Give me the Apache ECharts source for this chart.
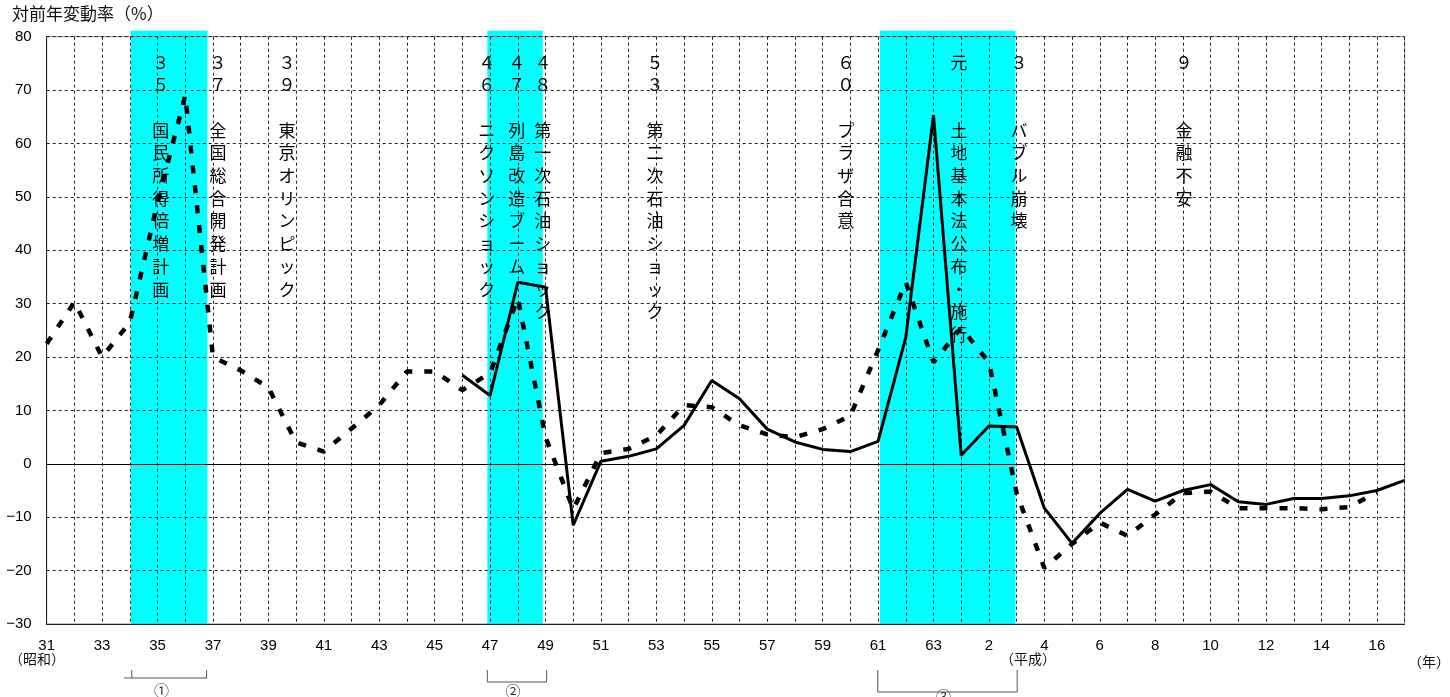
<!DOCTYPE html>
<html>
<head>
<meta charset="utf-8">
<script src="https://cdn.jsdelivr.net/npm/echarts@6/dist/echarts.min.js"></script>
<style>
html,body{margin:0;padding:0;background:#fff;}
#chart{width:1450px;height:697px;}
</style>
</head>
<body>
<div id="chart"></div>
<script>
// ---- Data ----
// Year labels (Showa 31 .. 63, Heisei 元 .. 17)
const years = ['31','32','33','34','35','36','37','38','39','40','41','42','43','44','45','46','47','48','49','50',
  '51','52','53','54','55','56','57','58','59','60','61','62','63','元','2','3','4','5','6','7','8','9','10',
  '11','12','13','14','15','16','17'];

// Dashed series: year-on-year change (%)
const seriesDashed = [22.5, 30.3, 20.0, 26.5, 49.0, 69.0, 20.0, 17.5, 14.3, 4.0,
  2.3, 6.6, 11.0, 17.3, 17.3, 13.8, 17.0, 31.0, 5.0, -8.5,
  2.0, 2.8, 5.3, 11.0, 10.6, 7.2, 5.5, 5.0, 6.5, 9.0,
  21.3, 34.0, 19.0, 25.5, 19.0, -5.5, -19.5, -15.0, -11.0, -13.5,
  -9.5, -5.5, -5.2, -8.3, -8.3, -8.3, -8.5, -8.1, -5.3, null];

// Solid series: year-on-year change (%)
const seriesSolid = [null, null, null, null, null, null, null, null, null, null,
  null, null, null, null, null, 16.6, 12.8, 34.0, 33.1, -11.5,
  0.5, 1.4, 2.8, 7.2, 15.6, 12.2, 6.5, 4.1, 2.7, 2.3,
  4.2, 23.7, 65.3, 1.6, 7.1, 6.9, -8.3, -14.9, -9.3, -4.8,
  -7.0, -5.0, -3.9, -7.1, -7.6, -6.5, -6.5, -6.0, -5.0, -3.1];

// Highlighted periods (in year-index units)
const bandRanges = [[3.04, 5.80], [15.90, 17.90], [30.07, 34.96]];
const bracketLines = [[2.79, 5.79], [15.90, 18.04], [29.99, 35.02]];
const bracketTicks = [[3.07, 5.77], [15.90, 18.04], [29.99, 35.02]];
const bracketLabels = ['①', '②', '③'];

// Event annotations
const annoX = [4.12, 6.18, 8.67, 15.88, 16.96, 17.90, 21.95, 28.83, 32.92, 35.09, 41.04];
const annoHead = ['３５', '３７', '３９', '４６', '４７', '４８', '５３', '６０', '元', '３', '９'];
const annoText = ['国民所得倍増計画', '全国総合開発計画', '東京オリンピック', 'ニクソンショック', '列島改造ブーム',
  '第一次石油ショック', '第二次石油ショック', 'プラザ合意', '土地基本法公布・施行', 'バブル崩壊', '金融不安'];

const yTicks = { min: -30, max: 80, step: 10 };

// ---- Chart ----
const chart = echarts.init(document.getElementById('chart'), null, { renderer: 'canvas' });
const numFont = 'Liberation Sans, Arial, sans-serif';
const cjkFont = '"Noto Sans CJK JP", sans-serif';

const toPairs = arr => arr.map((v, i) => [i, v]).filter(p => p[1] !== null);

const bracketOffsets = [54, 58, 68];
const labelOffsets = [66, 67, 72];

const option = {
  animation: false,
  backgroundColor: '#fff',
  grid: { left: 46.7, right: 45.4, top: 36.7, bottom: 73, show: true, borderColor: '#888', borderWidth: 1 },
  xAxis: {
    type: 'value', min: 0, max: years.length - 1, interval: 1,
    axisLine: { show: true, onZero: false, lineStyle: { color: '#222', width: 1 } },
    axisTick: { show: false },
    splitLine: { show: true, lineStyle: { type: [3, 3], color: '#222', width: 1 } },
    axisLabel: {
      formatter: v => (v % 2 === 0 && v < years.length - 1) ? years[v] : '',
      fontSize: 15, color: '#000', margin: 14, fontFamily: numFont
    }
  },
  yAxis: {
    type: 'value', min: yTicks.min, max: yTicks.max, interval: yTicks.step,
    axisLine: { show: true, lineStyle: { color: '#222', width: 1 } },
    axisTick: { show: false },
    splitLine: { show: true, lineStyle: { type: [3, 3], color: '#222', width: 1 } },
    axisLabel: {
      formatter: v => String(v).replace('-', '−'),
      fontSize: 15, color: '#000', margin: 15, fontFamily: numFont
    }
  },
  graphic: [
    { type: 'text', left: 12, top: 5, style: { text: '対前年変動率（%）', fontSize: 17, fill: '#111', fontFamily: cjkFont } },
    { type: 'text', left: 9, top: 652, style: { text: '（昭和）', fontSize: 14, fill: '#111', fontFamily: cjkFont } },
    { type: 'text', left: 1000, top: 652, style: { text: '（平成）', fontSize: 14, fill: '#111', fontFamily: cjkFont } },
    { type: 'text', left: 1408, top: 655, style: { text: '（年）', fontSize: 14, fill: '#111', fontFamily: cjkFont } }
  ],
  series: [
    {
      type: 'custom', name: 'bands', z: -1, silent: true, clip: false,
      data: bandRanges,
      renderItem: (params, api) => {
        const p0 = api.coord([api.value(0), yTicks.max]);
        const p1 = api.coord([api.value(1), yTicks.min]);
        return { type: 'rect', shape: { x: p0[0], y: p0[1] - 6, width: p1[0] - p0[0], height: p1[1] - p0[1] + 6 },
          style: { fill: '#00FFFF' } };
      }
    },
    {
      type: 'custom', name: 'annotations', z: 1, silent: true, clip: false,
      data: annoX.map((x, i) => [x, 0]),
      renderItem: (params, api) => {
        const i = params.dataIndex;
        const head = Array.from(annoHead[i]);
        const lines = head.concat(Array(3 - head.length).fill(' '), Array.from(annoText[i]));
        const px = api.coord([api.value(0), yTicks.max]);
        return { type: 'text', style: { text: lines.join('\n'), x: px[0], y: px[1] + 14,
          align: 'center', verticalAlign: 'top', lineHeight: 22.7, fontSize: 17, fontFamily: cjkFont, fill: '#000' } };
      }
    },
    {
      type: 'custom', name: 'brackets', z: 3, silent: true, clip: false,
      data: bracketLines.map((b, i) => [b[0], 0]),
      renderItem: (params, api) => {
        const i = params.dataIndex;
        const base = api.coord([0, yTicks.min])[1];
        const l0 = api.coord([bracketLines[i][0], yTicks.min])[0];
        const l1 = api.coord([bracketLines[i][1], yTicks.min])[0];
        const t0 = api.coord([bracketTicks[i][0], yTicks.min])[0];
        const t1 = api.coord([bracketTicks[i][1], yTicks.min])[0];
        const ly = base + bracketOffsets[i];
        const ty = base + 46;
        const st = { stroke: '#555', lineWidth: 1 };
        return { type: 'group', children: [
          { type: 'line', shape: { x1: l0, y1: ly, x2: l1, y2: ly }, style: st },
          { type: 'line', shape: { x1: t0, y1: ty, x2: t0, y2: ly }, style: st },
          { type: 'line', shape: { x1: t1, y1: ty, x2: t1, y2: ly }, style: st },
          { type: 'text', style: { text: bracketLabels[i], x: (l0 + l1) / 2 - 4, y: base + labelOffsets[i],
            align: 'center', verticalAlign: 'middle', fontSize: 15, fill: '#333', fontFamily: cjkFont } }
        ] };
      }
    },
    {
      type: 'line', name: 'dashed', z: 4, data: toPairs(seriesDashed),
      showSymbol: false, symbol: 'none', silent: true,
      lineStyle: { color: '#000', width: 4.5, type: [8, 12] }
    },
    {
      type: 'line', name: 'solid', z: 5, data: toPairs(seriesSolid),
      showSymbol: false, symbol: 'none', silent: true,
      lineStyle: { color: '#000', width: 3, type: 'solid' },
      markLine: { silent: true, symbol: 'none', label: { show: false },
        lineStyle: { color: '#000', type: 'solid', width: 1 }, data: [{ yAxis: 0 }] }
    }
  ]
};
chart.setOption(option);
</script>
</body>
</html>
